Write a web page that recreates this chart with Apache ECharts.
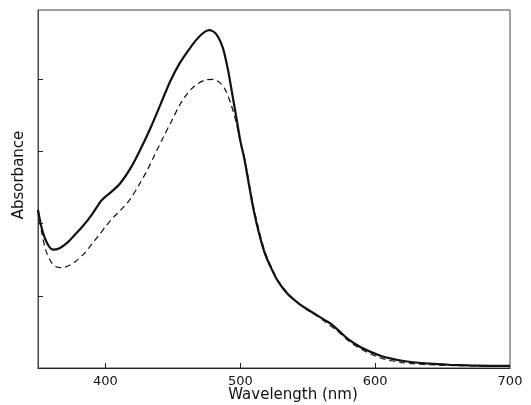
<!DOCTYPE html>
<html>
<head>
<meta charset="utf-8">
<script src="https://cdn.jsdelivr.net/npm/echarts@6/dist/echarts.min.js"></script>
<style>
html,body{margin:0;padding:0;background:#fff;}
#chart{width:531px;height:405px;}
</style>
</head>
<body>
<div id="chart"></div>
<script>
// 实线光谱
var solidWl = [350,353,357,361,366,372,377,383,389,394,397,401,405,411,419,426,434,441,448,455,463,470,477,482,487,491,494,497,500,503,507,510,514,518,523,528,535,543,550,557,563,568,574,580,589,597,604,612,620,628,640,655,670,685,700];
var solidAbs = [2.19,1.92,1.72,1.64,1.66,1.74,1.84,1.96,2.10,2.24,2.32,2.39,2.45,2.56,2.78,3.03,3.35,3.66,3.97,4.22,4.44,4.60,4.68,4.63,4.44,4.12,3.80,3.48,3.15,2.90,2.48,2.18,1.86,1.60,1.38,1.20,1.03,0.90,0.81,0.73,0.66,0.60,0.50,0.40,0.29,0.22,0.17,0.13,0.10,0.08,0.06,0.045,0.035,0.03,0.03];
// 虚线光谱
var dashWl = [350,353,356,360,364,368,373,378,384,390,396,401,406,412,418,425,431,437,443,449,455,461,467,474,480,485,489,493,497,500,503,507,510,514,518,523,528,535,543,550,557,563,568,574,580,589,597,604,612,620,628,640,655,670,685,700];
var dashAbs = [2.19,1.85,1.62,1.46,1.40,1.39,1.42,1.48,1.58,1.72,1.86,1.98,2.09,2.20,2.33,2.54,2.74,2.97,3.20,3.42,3.64,3.81,3.92,3.99,4.00,3.95,3.85,3.66,3.40,3.13,2.92,2.52,2.22,1.90,1.63,1.40,1.21,1.04,0.90,0.80,0.72,0.64,0.57,0.48,0.38,0.27,0.19,0.14,0.10,0.075,0.06,0.045,0.035,0.03,0.025,0.02];
var xLabels = [400,500,600,700];
var xTicks = [400,500,600];
var yTicks = [1,2,3,4];

function pairs(xs, ys){
  var out = [];
  for (var i = 0; i < xs.length; i++) out.push([xs[i], ys[i]]);
  return out;
}

var myChart = echarts.init(document.getElementById('chart'));
var font = 'DejaVu Sans';
var option = {
  animation: false,
  backgroundColor: '#fff',
  grid: {
    left: 38, right: 21, top: 10, bottom: 37,
    outerBoundsMode: 'none',
    containLabel: false,
    show: true,
    borderColor: '#444',
    borderWidth: 1
  },
  xAxis: {
    type: 'value',
    min: 350,
    max: 700,
    interval: 50,
    name: 'Wavelength (nm)',
    nameLocation: 'middle',
    nameGap: 20,
    nameMoveOverlap: false,
    nameTextStyle: { color: '#111', fontSize: 15, fontFamily: font, padding: [0, 0, 0, 38] },
    axisLine: { show: true, lineStyle: { color: '#222', width: 1.2 } },
    axisTick: { show: true, inside: true, length: 5, customValues: xTicks, lineStyle: { color: '#222' } },
    axisLabel: { customValues: xLabels, color: '#111', fontSize: 13, fontFamily: font, margin: 7 },
    splitLine: { show: false }
  },
  yAxis: {
    type: 'value',
    min: 0,
    max: 4.96,
    name: 'Absorbance',
    nameLocation: 'middle',
    nameGap: 11,
    nameTextStyle: { color: '#111', fontSize: 15, fontFamily: font, padding: [0, 0, 0, 28] },
    axisLine: { show: true, lineStyle: { color: '#444', width: 1 } },
    axisTick: { show: true, inside: true, length: 5, customValues: yTicks, lineStyle: { color: '#222' } },
    axisLabel: { show: false },
    splitLine: { show: false }
  },
  series: [
    {
      name: 'solid',
      type: 'line',
      data: pairs(solidWl, solidAbs),
      smooth: 0.3,
      showSymbol: false,
      lineStyle: { color: '#111', width: 2.2, type: 'solid' },
      z: 3
    },
    {
      name: 'dashed',
      type: 'line',
      data: pairs(dashWl, dashAbs),
      smooth: 0.3,
      showSymbol: false,
      lineStyle: { color: '#111', width: 1.2, type: [6, 4] },
      z: 2
    }
  ]
};
myChart.setOption(option);
</script>
</body>
</html>
